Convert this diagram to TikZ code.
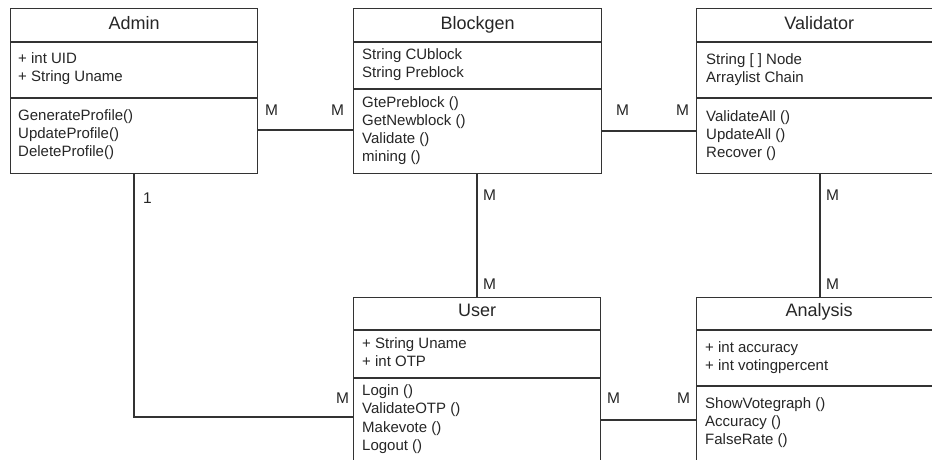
\documentclass[tikz,border=0pt]{standalone}
\usepackage{fontspec}
\newfontfamily\lsans{Liberation Sans}
\definecolor{linec}{HTML}{333333}
\definecolor{txtc}{HTML}{262626}
\tikzset{
  cls/.style={draw=linec, line width=1.4pt, rectangle, inner sep=0pt, anchor=north west},
  ttl/.style={font=\lsans\fontsize{18}{20}\selectfont, text=txtc, anchor=base, inner sep=0pt},
  bodytxt/.style={font=\lsans\fontsize{15}{17}\selectfont, text=txtc, anchor=base west, inner sep=0pt},
  mult/.style={font=\lsans\fontsize{15.5}{17}\selectfont, text=txtc, anchor=base west, inner sep=0pt},
  conn/.style={draw=linec, line width=1.4pt},
  sep/.style={draw=linec, line width=1.4pt},
}
\begin{document}
\begin{tikzpicture}[x=1pt,y=-1pt]
\useasboundingbox (0,0) rectangle (932,459);
\fill[white] (0,0) rectangle (932,459);
\clip (0,0) rectangle (932,459);

% class boxes
\node[cls, minimum width=247pt, minimum height=165pt] (admin) at (10,8) {};
\node[cls, minimum width=248pt, minimum height=165pt] (blockgen) at (353,8) {};
\node[cls, minimum width=245pt, minimum height=165pt] (validator) at (696,8) {};
\node[cls, minimum width=247pt, minimum height=180pt] (user) at (353,297) {};
\node[cls, minimum width=245pt, minimum height=180pt] (analysis) at (696,297) {};

% separators
\draw[sep] ([yshift=-34pt]admin.north west) -- ([yshift=-34pt]admin.north east);
\draw[sep] ([yshift=-90pt]admin.north west) -- ([yshift=-90pt]admin.north east);
\draw[sep] ([yshift=-34pt]blockgen.north west) -- ([yshift=-34pt]blockgen.north east);
\draw[sep] ([yshift=-81pt]blockgen.north west) -- ([yshift=-81pt]blockgen.north east);
\draw[sep] ([yshift=-34pt]validator.north west) -- ([yshift=-34pt]validator.north east);
\draw[sep] ([yshift=-90pt]validator.north west) -- ([yshift=-90pt]validator.north east);
\draw[sep] ([yshift=-33pt]user.north west) -- ([yshift=-33pt]user.north east);
\draw[sep] ([yshift=-81pt]user.north west) -- ([yshift=-81pt]user.north east);
\draw[sep] ([yshift=-33pt]analysis.north west) -- ([yshift=-33pt]analysis.north east);
\draw[sep] ([yshift=-89pt]analysis.north west) -- ([yshift=-89pt]analysis.north east);

% titles
\node[ttl] (adminT) at ([yshift=-21pt]admin.north) {Admin};
\node[ttl] (blockgenT) at ([yshift=-21pt]blockgen.north) {Blockgen};
\node[ttl] (validatorT) at ([yshift=-21pt]validator.north) {Validator};
\node[ttl] (userT) at ([yshift=-19pt]user.north) {User};
\node[ttl] (analysisT) at ([yshift=-19pt]analysis.north) {Analysis};

% Admin body
\node[bodytxt] (a1) at (18,63) {+ int UID};
\node[bodytxt] (a2) at (18,81.5) {+ String Uname};
\node[bodytxt] (a3) at (18,120) {GenerateProfile()};
\node[bodytxt] (a4) at (18,138) {UpdateProfile()};
\node[bodytxt] (a5) at (18,156.5) {DeleteProfile()};

% Blockgen body
\node[bodytxt] (b1) at (362,59) {String CUblock};
\node[bodytxt] (b2) at (362,77) {String Preblock};
\node[bodytxt] (b3) at (362,107) {GtePreblock ()};
\node[bodytxt] (b4) at (362,125) {GetNewblock ()};
\node[bodytxt] (b5) at (362,143) {Validate ()};
\node[bodytxt] (b6) at (362,161) {mining ()};

% Validator body
\node[bodytxt] (v1) at (706,64) {String [ ] Node};
\node[bodytxt] (v2) at (706,82) {Arraylist Chain};
\node[bodytxt] (v3) at (706,121) {ValidateAll ()};
\node[bodytxt] (v4) at (706,139) {UpdateAll ()};
\node[bodytxt] (v5) at (706,157) {Recover ()};

% User body
\node[bodytxt] (u1) at (362,348) {+ String Uname};
\node[bodytxt] (u2) at (362,366) {+ int OTP};
\node[bodytxt] (u3) at (362,395) {Login ()};
\node[bodytxt] (u4) at (362,413.5) {ValidateOTP ()};
\node[bodytxt] (u5) at (362,432) {Makevote ()};
\node[bodytxt] (u6) at (362,450) {Logout ()};

% Analysis body
\node[bodytxt] (n1) at (705,352) {+ int accuracy};
\node[bodytxt] (n2) at (705,370) {+ int votingpercent};
\node[bodytxt] (n3) at (705,408) {ShowVotegraph ()};
\node[bodytxt] (n4) at (705,426) {Accuracy ()};
\node[bodytxt] (n5) at (705,444) {FalseRate ()};

% connectors
\draw[conn] ([yshift=-122pt]admin.north east) -- ([yshift=-122pt]blockgen.north west);
\draw[conn] ([yshift=-123pt]blockgen.north east) -- ([yshift=-123pt]validator.north west);
\draw[conn] ([xshift=124pt]blockgen.south west) -- ([xshift=124pt]user.north west);
\draw[conn] ([xshift=124pt]validator.south west) -- ([xshift=124pt]analysis.north west);
\draw[conn] ([xshift=124pt]admin.south west) |- ([yshift=-120pt]user.north west);
\draw[conn] ([yshift=-123pt]user.north east) -- ([yshift=-123pt]analysis.north west);

% multiplicities
\node[mult] (m1) at (265,115) {M};
\node[mult] (m2) at (331,115) {M};
\node[mult] (m3) at (616,115) {M};
\node[mult] (m4) at (676,115) {M};
\node[mult] (m5) at (143,203) {1};
\node[mult] (m6) at (483,200) {M};
\node[mult] (m7) at (483,289) {M};
\node[mult] (m8) at (826,200) {M};
\node[mult] (m9) at (826,289) {M};
\node[mult] (m10) at (336,403) {M};
\node[mult] (m11) at (607,403) {M};
\node[mult] (m12) at (677,403) {M};
\end{tikzpicture}
\end{document}
